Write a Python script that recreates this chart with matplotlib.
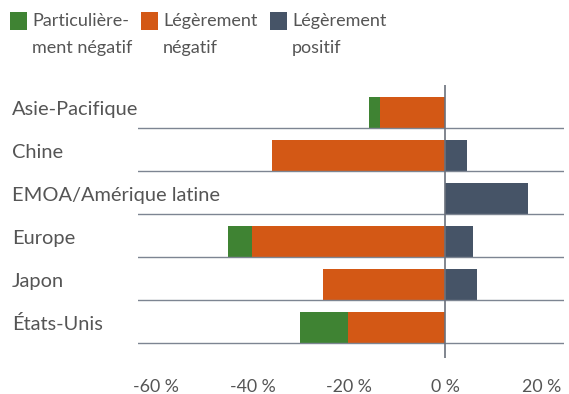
import numpy as np
import matplotlib.pyplot as plt
from matplotlib.patches import Rectangle
from matplotlib.transforms import blended_transform_factory

plt.rcParams["font.family"] = ["Lato", "DejaVu Sans"]

regions = ["Asie-Pacifique", "Chine", "EMOA/Amérique latine", "Europe", "Japon", "États-Unis"]
tres_negatif = [2.3, 0.0, 0.0, 5.0, 0.0, 10.0]
negatif = [13.5, 36.0, 0.0, 40.1, 25.4, 20.2]
positif = [0.0, 4.6, 17.3, 5.8, 6.7, 0.0]

series_labels = [("Particulière-", "ment négatif"), ("Légèrement", "négatif"), ("Légèrement", "positif")]
tick_values = [-60, -40, -20, 0, 20]

GREEN = "#3f8333"
ORANGE = "#d35815"
SLATE = "#465467"
TEXT = "#555555"
RULE = "#7d8592"

fig = plt.figure(figsize=(5.69, 3.94), dpi=100)
ax = fig.add_axes([138 / 569, 36 / 394, 426 / 569, 273 / 394])

neg = -np.array(negatif)
vneg = -np.array(tres_negatif)
pos = np.array(positif)
y = np.arange(len(regions)) + 1 - 0.36
h = 0.72

ax.barh(y, neg, height=h, color=ORANGE, linewidth=0)
ax.barh(y, vneg, left=neg, height=h, color=GREEN, linewidth=0)
ax.barh(y, pos, height=h, color=SLATE, linewidth=0)

# separator under each row
for i in range(len(regions)):
    ax.axhline(i + 1, color=RULE, lw=1.0, zorder=3)
ax.axvline(0, color="#6b717c", lw=1.2, zorder=4)

ax.set_xlim(-63.8, 24.7)
ax.set_ylim(6.35, 0)
for s in ax.spines.values():
    s.set_visible(False)
ax.set_yticks([])
ax.set_xticks(tick_values)
ax.set_xticklabels([f"{v} %" for v in tick_values])
ax.tick_params(axis="x", length=0, pad=15, labelsize=12.8, labelcolor=TEXT)

trans = blended_transform_factory(fig.transFigure, ax.transData)
for i, name in enumerate(regions):
    ax.text(12 / 569, i + 1 - 0.30, name, transform=trans, ha="left",
            va="baseline", fontsize=14.4, color=TEXT)

# legend drawn by hand: square + two-line label
legend_x = [10, 141, 270]
for lx, col, (l1, l2) in zip(legend_x, [GREEN, ORANGE, SLATE], series_labels):
    fig.patches.append(Rectangle((lx / 569, 1 - 30 / 394), 17 / 569, 18 / 394,
                                 transform=fig.transFigure, color=col, lw=0))
    fig.text((lx + 22) / 569, 1 - 26 / 394, l1, ha="left", va="baseline",
             fontsize=13, color=TEXT)
    fig.text((lx + 22) / 569, 1 - 53 / 394, l2, ha="left", va="baseline",
             fontsize=13, color=TEXT)

fig.savefig("out.png", dpi=100)
